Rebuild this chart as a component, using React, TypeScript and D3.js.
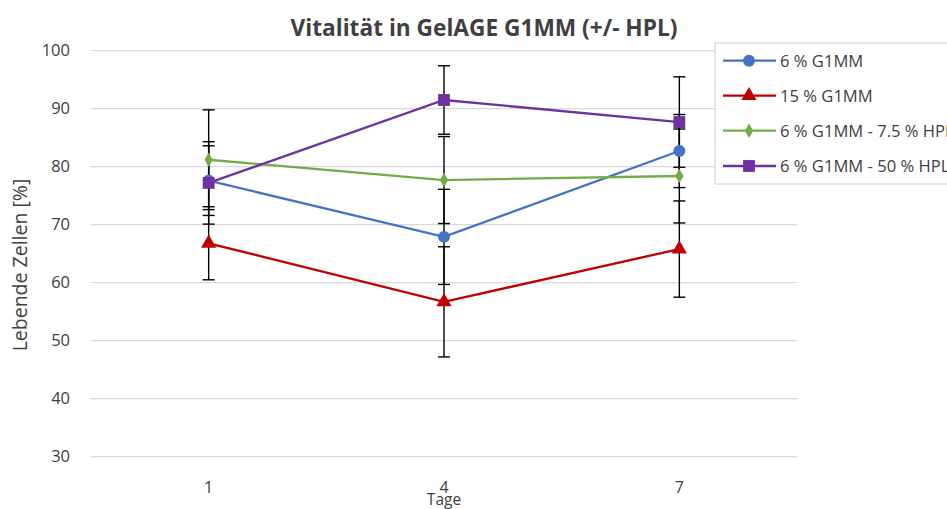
import React from "react";
import * as d3 from "d3";

const days = ["1", "4", "7"];
const seriesNames = ["6 % G1MM", "15 % G1MM", "6 % G1MM - 7.5 % HPL", "6 % G1MM - 50 % HPL"];
const blueValues = [77.6, 67.9, 82.7];
const redValues = [66.8, 56.7, 65.8];
const greenValues = [81.2, 77.7, 78.4];
const purpleValues = [77.2, 91.5, 87.7];
const blueErrors = [6.0, 8.2, 6.3];
const redErrors = [6.3, 9.5, 8.3];
const greenErrors = [8.6, 7.5, 8.1];
const purpleErrors = [7.1, 5.9, 7.8];
const yTicks = [30, 40, 50, 60, 70, 80, 90, 100];

const colors = ["#4472C4", "#C00000", "#70AD47", "#7030A0"];
const symbols = [d3.symbolCircle, d3.symbolTriangle, d3.symbolDiamond, d3.symbolSquare];
const symbolSizes = [113, 100, 60, 140];

export default function App() {
  const W = 947, H = 509;
  const left = 91, right = 797, top = 50.7, bottom = 456.7;
  const x = d3.scaleBand().domain(days).range([left, right]);
  const y = d3.scaleLinear().domain([30, 100]).range([bottom, top]);
  const cx = (d: string) => (x(d) as number) + x.bandwidth() / 2;
  const values = [blueValues, redValues, greenValues, purpleValues];
  const errors = [blueErrors, redErrors, greenErrors, purpleErrors];
  const line = d3.line<number>().x((_, i) => cx(days[i])).y((v) => y(v));
  const font = "Open Sans, sans-serif";
  const legendX = 715, legendY = 43, rowY = [60.7, 95.7, 130.7, 166];

  return (
    <svg width={W} height={H} style={{ position: "absolute", left: 0, top: 0, background: "#fff" }} fontFamily={font}>
      <rect x={0} y={0} width={W} height={H} fill="#fff" />
      {yTicks.map((t) => (
        <g key={t}>
          <line x1={left} x2={right} y1={y(t)} y2={y(t)} stroke="#D9D9D9" strokeWidth={1.3} />
          <text x={70} y={y(t)} dy="0.35em" textAnchor="end" fontSize={16.5} fill="#404040">{t}</text>
        </g>
      ))}
      {days.map((d) => (
        <text key={d} x={cx(d)} y={493} textAnchor="middle" fontSize={16} fill="#404040">{d}</text>
      ))}
      <text x={cx("4")} y={505} textAnchor="middle" fontSize={15.5} fill="#404040">Tage</text>
      <text transform={`translate(27,265) rotate(-90)`} textAnchor="middle" fontSize={19.5} fill="#404040">Lebende Zellen [%]</text>
      <text x={484} y={36} textAnchor="middle" fontSize={22.7} fontWeight="bold" fill="#404040">Vitalität in GelAGE G1MM (+/- HPL)</text>
      {values.map((vals, s) => (
        <g key={"e" + s}>
          {vals.map((v, i) => {
            const xc = cx(days[i]);
            const e = errors[s][i];
            return (
              <g key={i} stroke="#000" strokeWidth={1.4}>
                <line x1={xc} x2={xc} y1={y(v + e)} y2={y(v - e)} />
                <line x1={xc - 6} x2={xc + 6} y1={y(v + e)} y2={y(v + e)} />
                <line x1={xc - 6} x2={xc + 6} y1={y(v - e)} y2={y(v - e)} />
              </g>
            );
          })}
        </g>
      ))}
      {values.map((vals, s) => (
        <path key={"l" + s} d={line(vals) as string} fill="none" stroke={colors[s]} strokeWidth={2.3} />
      ))}
      {values.map((vals, s) => (
        <g key={"m" + s}>
          {vals.map((v, i) => (
            <path key={i} transform={`translate(${cx(days[i])},${y(v)})`} d={d3.symbol(symbols[s], symbolSizes[s])() as string} fill={colors[s]} />
          ))}
        </g>
      ))}
      <rect x={legendX} y={legendY} width={260} height={141} fill="#fff" stroke="#D9D9D9" strokeWidth={1.3} />
      {seriesNames.map((n, s) => (
        <g key={n}>
          <line x1={723} x2={776} y1={rowY[s]} y2={rowY[s]} stroke={colors[s]} strokeWidth={2.3} />
          <path transform={`translate(749,${rowY[s]})`} d={d3.symbol(symbols[s], symbolSizes[s])() as string} fill={colors[s]} />
          <text x={780} y={rowY[s]} dy="0.35em" fontSize={16.6} fill="#404040">{n}</text>
        </g>
      ))}
    </svg>
  );
}
